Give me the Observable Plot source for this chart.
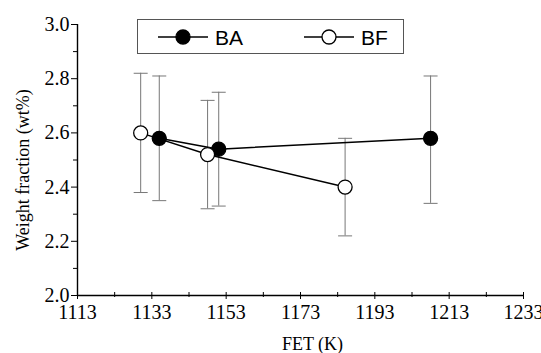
<!DOCTYPE html>
<html><head><meta charset="utf-8">
<script src="https://cdn.jsdelivr.net/npm/d3@7"></script>
<script src="https://cdn.jsdelivr.net/npm/@observablehq/plot@0.6"></script>
<style>
body{margin:0;background:#fff;}
#wrap{position:relative;width:541px;height:353px;}
#legend{position:absolute;left:137px;top:19px;width:267px;height:35px;border:1px solid #555;box-sizing:border-box;background:#fff;}
</style></head><body><div id="wrap"><div id="legend"></div></div>
<script>
const seriesNames = ["BA", "BF"];
const fet_BA = [1135, 1151, 1208];
const wt_BA = [2.58, 2.54, 2.58];
const lo_BA = [2.35, 2.33, 2.34];
const hi_BA = [2.81, 2.75, 2.81];
const fet_BF = [1130, 1148, 1185];
const wt_BF = [2.60, 2.52, 2.40];
const lo_BF = [2.38, 2.32, 2.22];
const hi_BF = [2.82, 2.72, 2.58];
const xDomain = [1113, 1233];
const yDomain = [2.0, 3.0];
const xTicks = [1113, 1133, 1153, 1173, 1193, 1213, 1233];
const xMinor = [1123, 1143, 1163, 1183, 1203, 1223];
const yTicks = [2.0, 2.2, 2.4, 2.6, 2.8, 3.0];
const yMinor = [2.1, 2.3, 2.5, 2.7, 2.9];
const xLabel = "FET (K)";
const yLabel = "Weight fraction (wt%)";

const data = [];
fet_BA.forEach((x, i) => data.push({s: "BA", x, y: wt_BA[i], lo: lo_BA[i], hi: hi_BA[i]}));
fet_BF.forEach((x, i) => data.push({s: "BF", x, y: wt_BF[i], lo: lo_BF[i], hi: hi_BF[i]}));

const cap = {draw(ctx, size) { const h = Math.sqrt(size / Math.PI); ctx.moveTo(-h, 0); ctx.lineTo(h, 0); }};
const serif = "Liberation Serif, Times New Roman, serif";

const chart = Plot.plot({
  width: 541, height: 353,
  marginLeft: 77, marginRight: 18, marginTop: 24, marginBottom: 58,
  style: {fontFamily: serif, fontSize: "20px", background: "white"},
  x: {domain: xDomain},
  y: {domain: yDomain},
  marks: [
    Plot.ruleX(data, {x: "x", y1: "lo", y2: "hi", stroke: "#777", strokeWidth: 1}),
    Plot.dot(data, {x: "x", y: "lo", symbol: cap, r: 7, stroke: "#777", strokeWidth: 1, fill: "none"}),
    Plot.dot(data, {x: "x", y: "hi", symbol: cap, r: 7, stroke: "#777", strokeWidth: 1, fill: "none"}),
    Plot.line(data, {x: "x", y: "y", z: "s", stroke: "black", strokeWidth: 1.5}),
    Plot.dot(data, {x: "x", y: "y", r: 7, fill: d => d.s === "BA" ? "black" : "white", stroke: "black", strokeWidth: 1.3}),
    Plot.ruleY([yDomain[0]], {stroke: "black", strokeWidth: 1.4}),
    Plot.ruleX([xDomain[0]], {stroke: "black", strokeWidth: 1.4}),
    // x axis: ticks crossing the axis line, labels below
    Plot.axisX({ticks: xTicks, tickSize: 4, tickPadding: 5, tickFormat: d => String(d), label: null, fontFamily: serif, fontSize: 20}),
    Plot.axisX({ticks: xTicks, tickSize: -3, text: null, label: null}),
    Plot.axisX({ticks: xMinor, tickSize: 2, text: null, label: null}),
    Plot.axisX({ticks: xMinor, tickSize: -3, text: null, label: null}),
    // y axis: ticks outward
    Plot.axisY({ticks: yTicks, tickSize: 6, tickPadding: 2, tickFormat: d => d.toFixed(1), label: null, fontFamily: serif, fontSize: 20}),
    Plot.axisY({ticks: yMinor, tickSize: 4, text: null, label: null}),
    // axis titles
    Plot.text([xLabel], {frameAnchor: "bottom", dx: 12, dy: 49, lineAnchor: "middle", textAnchor: "middle", fontFamily: serif, fontSize: 18, fill: "black"}),
    Plot.text([yLabel], {frameAnchor: "left", rotate: -90, dx: -54, dy: 10, lineAnchor: "middle", textAnchor: "middle", fontFamily: serif, fontSize: 18, fill: "black"})
  ]
});
document.getElementById("wrap").prepend(chart);

// legend (HTML overlay inside the plot area)
const lg = d3.select("#legend").append("svg").attr("width", 265).attr("height", 33);
const items = [{name: seriesNames[0], fill: "black", x0: 20}, {name: seriesNames[1], fill: "white", x0: 166}];
items.forEach(it => {
  const g = lg.append("g").attr("transform", `translate(${it.x0},17)`);
  g.append("line").attr("x1", 0).attr("x2", 50).attr("stroke", "black").attr("stroke-width", 1.3);
  g.append("circle").attr("cx", 25).attr("r", 7).attr("fill", it.fill).attr("stroke", "black").attr("stroke-width", 1.3);
  g.append("text").attr("x", 57).attr("dy", "0.36em").attr("font-family", "Liberation Sans, Arial, sans-serif").attr("font-size", 21).text(it.name);
});
</script></body></html>
